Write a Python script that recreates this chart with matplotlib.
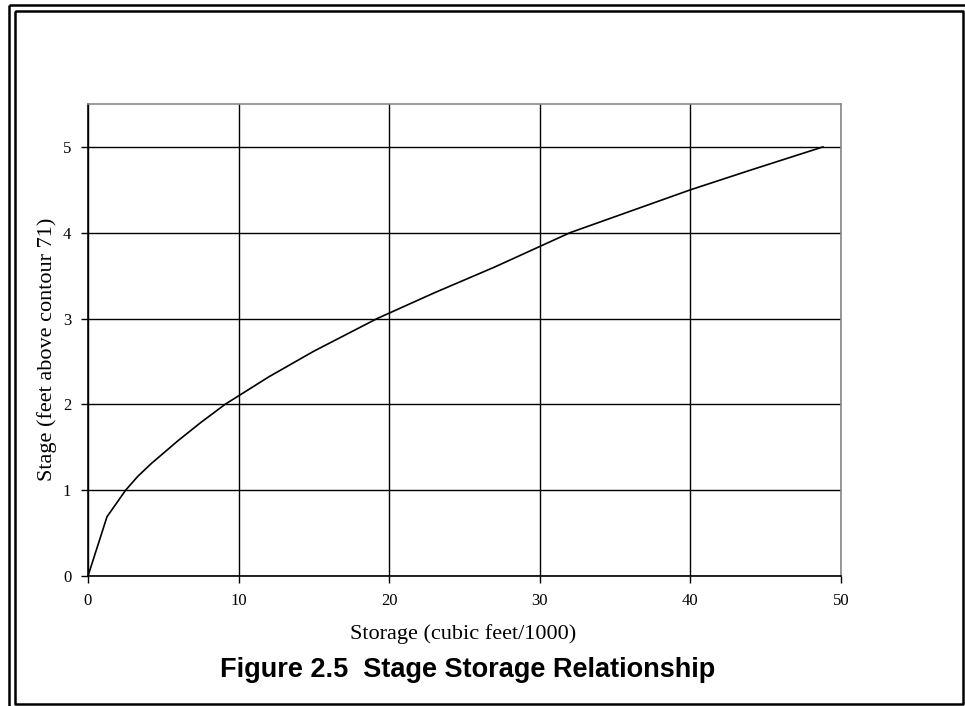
import matplotlib
matplotlib.use("Agg")
import matplotlib.pyplot as plt
from matplotlib.lines import Line2D

# Datos (almacenamiento en miles de pies cúbicos, nivel en pies)
storage = [0, 1.26, 2.5, 3.3, 4.2, 6.0, 7.5, 9.1, 12.0, 15.0, 19.2, 23.0, 27.0, 32.0, 36.0, 40.0, 44.0, 48.8]
stage = [0, 0.69, 1.0, 1.16, 1.31, 1.58, 1.79, 2.0, 2.32, 2.62, 3.0, 3.3, 3.6, 4.0, 4.25, 4.5, 4.73, 5.0]

x_ticks = [0, 10, 20, 30, 40, 50]
y_ticks = [0, 1, 2, 3, 4, 5]

W, H = 965, 706
fig = plt.figure(figsize=(W / 100, H / 100), dpi=100)
fig.patch.set_facecolor("white")

# Marco doble alrededor de la figura
def fig_line(xs, ys, lw=2.0, color="black"):
    fig.add_artist(Line2D([x / W for x in xs], [1 - y / H for y in ys],
                          transform=fig.transFigure, color=color, lw=lw,
                          solid_capstyle="butt"))

fig_line([9, W], [4.5, 4.5], lw=1.8)
fig_line([9, 9], [4.5, H], lw=1.8)
fig_line([14.5, 963, 963, 14.5, 14.5], [10.5, 10.5, 704, 704, 10.5], lw=1.8)

ax = fig.add_axes([88 / W, 1 - 576 / H, (841 - 88) / W, (576 - 104) / H])

ax.plot(storage, stage, color="black", lw=1.2, zorder=3)

ax.set_xlim(0, 50)
ax.set_ylim(0, 5.5)
ax.set_xticks(x_ticks)
ax.set_yticks(y_ticks)
ax.grid(True, color="black", lw=1.0)
ax.set_axisbelow(True)

serif = ["Liberation Serif", "DejaVu Serif"]
for lab in ax.get_xticklabels() + ax.get_yticklabels():
    lab.set_fontfamily(serif)
    lab.set_fontsize(12)
ax.tick_params(direction="out", length=5, width=1, color="black", pad=7)

for side in ["left", "bottom"]:
    ax.spines[side].set_color("black")
    ax.spines[side].set_linewidth(1.2)
for side in ["top", "right"]:
    ax.spines[side].set_color("#8a8a8a")
    ax.spines[side].set_linewidth(1.2)

# Títulos de los ejes y de la figura
fig.text(463 / W, 1 - 639 / H, "Storage (cubic feet/1000)",
         ha="center", va="baseline", fontsize=16, fontfamily=serif)
fig.text(47 / W, 1 - 349 / H, "Stage (feet above contour 71)",
         ha="center", va="center", rotation=90, fontsize=16, fontfamily=serif)
fig.text(468 / W, 1 - 677 / H, "Figure 2.5  Stage Storage Relationship",
         ha="center", va="baseline", fontsize=19.5, fontweight="bold",
         fontfamily=["Liberation Sans", "DejaVu Sans"])

fig.savefig("out.png", dpi=100)
